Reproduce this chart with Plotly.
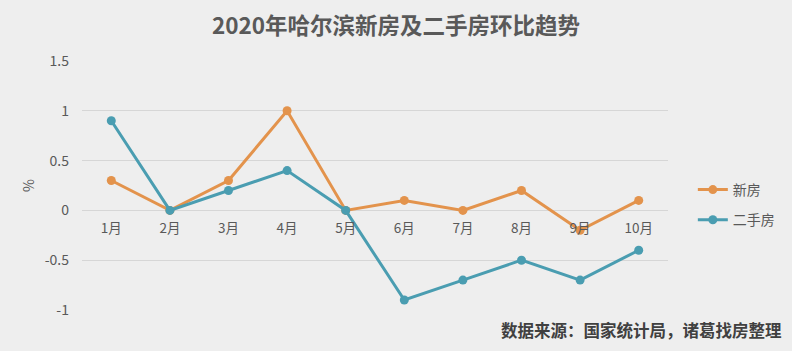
import plotly.graph_objects as go

months = ["1月", "2月", "3月", "4月", "5月", "6月", "7月", "8月", "9月", "10月"]
new_house = [0.3, 0.0, 0.3, 1.0, 0.0, 0.1, 0.0, 0.2, -0.2, 0.1]
second_house = [0.9, 0.0, 0.2, 0.4, 0.0, -0.9, -0.7, -0.5, -0.7, -0.4]
y_ticks = [-1, -0.5, 0, 0.5, 1, 1.5]
y_tick_labels = ["-1", "-0.5", "0", "0.5", "1", "1.5"]

ORANGE = "#e3934c"
TEAL = "#4a9db1"
FONT = "Noto Sans CJK SC"

W, H = 792, 351
ML, MR, MT, MB = 82, 120, 61, 41
plot_h = H - MT - MB
y_min, y_max = -1, 1.5
zero_pos = (0 - y_min) / (y_max - y_min)

fig = go.Figure()
fig.add_trace(go.Scatter(
    x=months, y=new_house, name="新房", mode="lines+markers",
    line=dict(color=ORANGE, width=3), marker=dict(color=ORANGE, size=9),
    legendgroup="a"))
fig.add_trace(go.Scatter(
    x=months, y=second_house, name="二手房", mode="lines+markers",
    line=dict(color=TEAL, width=3), marker=dict(color=TEAL, size=9),
    legendgroup="b"))

fig.update_layout(
    width=W, height=H,
    margin=dict(l=ML, r=MR, t=MT, b=MB),
    paper_bgcolor="#eeeeee", plot_bgcolor="#eeeeee",
    font=dict(family=FONT, color="#595959", size=12),
    title=dict(text="<b>2020年哈尔滨新房及二手房环比趋势</b>", x=0.5, xanchor="center",
               y=1 - 26 / H, yanchor="middle", font=dict(size=22.5, color="#595959", family=FONT)),
    xaxis=dict(type="category", range=[-0.5, 9.5], anchor="free", position=zero_pos,
               showgrid=False, showline=False, zeroline=False,
               ticks="outside", ticklen=5, tickcolor="rgba(0,0,0,0)",
               tickfont=dict(size=13.5, color="#595959")),
    yaxis=dict(range=[y_min, y_max], tickvals=y_ticks, ticktext=y_tick_labels,
               showgrid=True, gridcolor="#d6d6d6", gridwidth=1,
               zeroline=True, zerolinecolor="#d6d6d6", zerolinewidth=1,
               showline=False, ticks="", ticklabelstandoff=12,
               tickfont=dict(size=14, color="#595959"),
               title=dict(text="%", font=dict(size=14, color="#595959"), standoff=6)),
    legend=dict(x=(697 - ML) / (W - ML - MR), y=(H - MB - 174) / plot_h, xanchor="left", yanchor="top",
                bgcolor="rgba(0,0,0,0)", font=dict(size=14, color="#595959"),
                tracegroupgap=9, traceorder="grouped", itemwidth=30),
    showlegend=True,
)

fig.add_annotation(
    text="<b>数据来源：国家统计局，诸葛找房整理</b>", xref="paper", yref="paper",
    x=(789 - ML) / (W - ML - MR), y=(H - MB - 330) / plot_h, xanchor="right", yanchor="middle",
    showarrow=False, font=dict(size=16.5, color="#404040", family=FONT))

fig.write_html("out.html")
